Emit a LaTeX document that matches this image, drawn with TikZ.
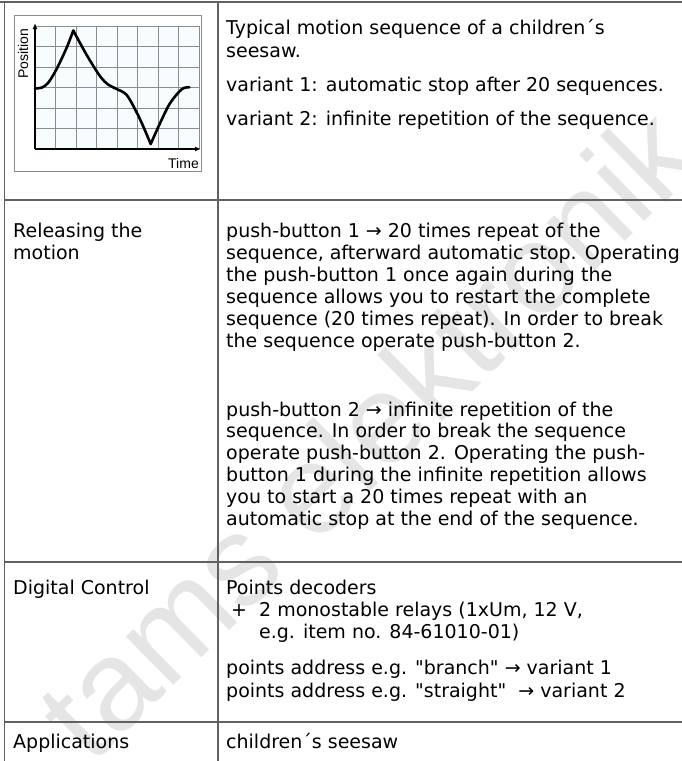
\documentclass[tikz,border=0pt]{standalone}
\usepackage{fontspec}
\setmainfont{DejaVu Sans}[Ligatures=TeXOff]
\newfontfamily\chartfont{Liberation Sans}
\usetikzlibrary{arrows.meta}
\begin{document}
\begin{tikzpicture}[x=1pt,y=-1pt,
  tabline/.style={draw=black!62, line width=1.5pt},
  txt/.style={anchor=base west, inner sep=0pt, font=\fontsize{19}{22}\selectfont},
  chartframe/.style={draw=black!45, line width=0.8pt},
  gridline/.style={draw=black!45, line width=0.7pt},
  axisline/.style={draw=black, line width=1.6pt, -{Latex[length=6pt,width=5pt]}},
  curveline/.style={draw=black, line width=2.6pt, line join=round, line cap=round},
  watermark/.style={text=black!10, font=\chartfont\fontsize{128}{128}\selectfont, inner sep=0pt}
]
\useasboundingbox (0,0) rectangle (682,761);
\fill[white] (0,0) rectangle (682,761);

% watermark
\node[watermark, rotate=44.5] (wm) at (366,432) {tams elektronik};

% table lines
\draw[tabline] (0,2) -- (682,2);
\draw[tabline] (4.5,2) -- (4.5,761);
\draw[tabline] (218,2) -- (218,761);
\draw[tabline] (4.5,200) -- (682,200);
\draw[tabline] (4.5,562) -- (682,562);
\draw[tabline] (4.5,722) -- (682,722);

% chart
\draw[chartframe] (14,15) rectangle (201,171);
\fill[black!8!cyan!3!white] (35,26) rectangle (199,149);
\foreach \k in {1,...,8} \draw[gridline] ({35+20.5*\k},26) -- ({35+20.5*\k},149);
\foreach \k in {0,...,5} \draw[gridline] (35,{26+20.5*\k}) -- (199,{26+20.5*\k});
\coordinate (orig) at (35,149);
\coordinate (ytip) at (35,23);
\coordinate (xtip) at (201,149);
\draw[axisline] (orig) -- (ytip);
\draw[axisline] (orig) -- (xtip);
\draw[curveline] plot[smooth, tension=0.55] coordinates {(35,88.5) (42,87.5) (48,83) (55,72) (62,58) (68,44.5) (73.3,30.5)}
  -- plot[smooth, tension=0.55] coordinates {(73.3,30.5) (80,43) (87,55.5) (94,67) (101,77.5) (108,84.5) (116.7,89) (126.7,95) (136.7,112.5) (143.5,127) (150.7,144)}
  -- plot[smooth, tension=0.55] coordinates {(150.7,144) (160,123.3) (170,103.3) (181.7,89.3) (189.3,87.3)};
\node[rotate=90, inner sep=0pt, font=\chartfont\fontsize{14}{14}\selectfont] (poslab) at (23,53.5) {Position};
\node[inner sep=0pt, font=\chartfont\fontsize{14}{14}\selectfont] (timelab) at (183.5,163) {Time};

% row 1
\foreach \t/\y [count=\i] in {{Typical motion sequence of a children´s}/34,
  {seesaw.}/57,
  {variant 1: automatic stop after 20 sequences.}/91,
  {variant 2: infinite repetition of the sequence.}/125}
  \node[txt] (ra\i) at (226,\y) {\t};

% row 2
\node[txt] (rbl1) at (13,237) {Releasing the};
\node[txt] (rbl2) at (13,259) {motion};
\foreach \t [count=\i from 0] in {{push-button 1 → 20 times repeat of the},
  {sequence, afterward automatic stop. Operating},
  {the push-button 1 once again during the},
  {sequence allows you to restart the complete},
  {sequence (20 times repeat). In order to break},
  {the sequence operate push-button 2.}}
  \node[txt] (rbp\i) at (226,{237+22*\i}) {\t};
\foreach \t [count=\i from 0] in {{push-button 2 → infinite repetition of the},
  {sequence. In order to break the sequence},
  {operate push-button 2. Operating the push-},
  {button 1 during the infinite repetition allows},
  {you to start a 20 times repeat with an},
  {automatic stop at the end of the sequence.}}
  \node[txt] (rbq\i) at (226,{416+21.8*\i}) {\t};

% row 3
\node[txt] (rcl) at (13,594) {Digital Control};
\node[txt] (rc1) at (226,594) {Points decoders};
\node[txt] (rcplus) at (231,616) {+};
\node[txt] (rc2) at (259,616) {2 monostable relays (1xUm, 12 V,};
\node[txt] (rc3) at (259,638) {e.g. item no. 84-61010-01)};
\node[txt] (rc4) at (226,674) {points address e.g. "branch" → variant 1};
\node[txt] (rc5) at (226,697) {points address e.g. "straight"\ \ → variant 2};

% row 4
\node[txt] (rdl) at (13,748) {Applications};
\node[txt] (rd1) at (226,748) {children´s seesaw};
\end{tikzpicture}
\end{document}
